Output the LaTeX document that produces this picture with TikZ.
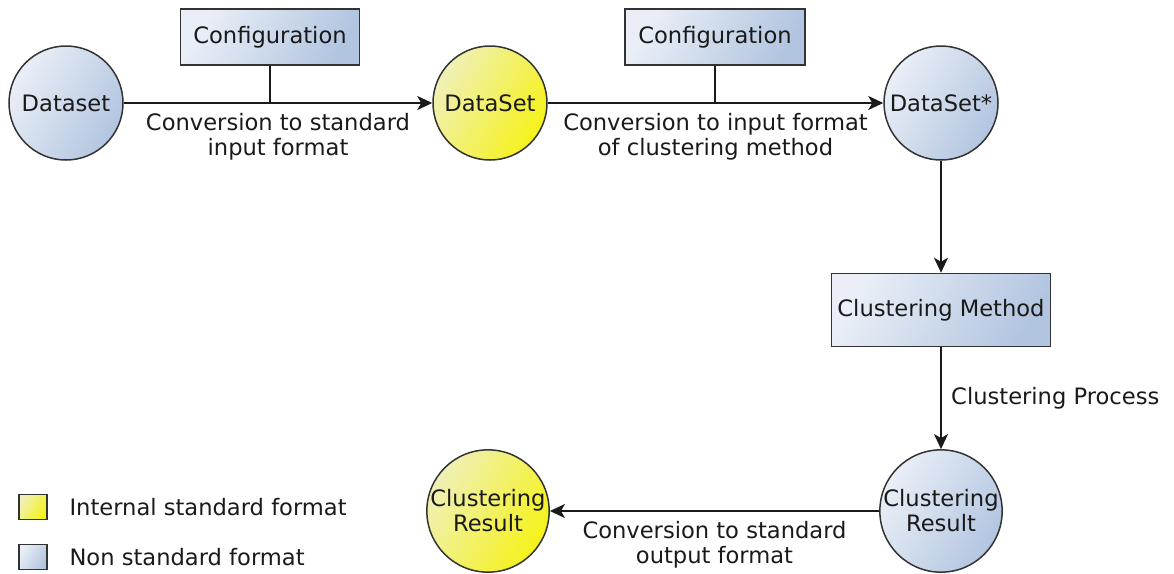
\documentclass[tikz,border=0pt]{standalone}
\usepackage{fontspec}
\setmainfont{DejaVu Sans}
\usetikzlibrary{arrows.meta}
\definecolor{blueL}{HTML}{EAEFF7}
\definecolor{blueD}{HTML}{B2C5E0}
\definecolor{yelL}{HTML}{F0F0B8}
\definecolor{yelD}{HTML}{F5F218}
\definecolor{ink}{HTML}{1A1A1A}
\definecolor{edge}{HTML}{333333}
\tikzset{
  bluefill/.style={shading=axis,left color=blueL,right color=blueD,shading angle=60},
  yelfill/.style={shading=axis,left color=yelL,right color=yelD,shading angle=60},
  statecirc/.style={circle,draw=edge,line width=1.5pt,minimum size=#1,inner sep=0pt,align=center,text=ink},
  bluecirc/.style={statecirc=114pt,bluefill},
  yelcirc/.style={statecirc=114pt,yelfill},
  cfgbox/.style={rectangle,draw=edge,line width=1.5pt,bluefill,text=ink},
  legbox/.style={rectangle,draw=edge,line width=1.2pt,minimum width=28pt,minimum height=25pt,inner sep=0pt},
  conn/.style={draw=ink,line width=1.8pt},
  arr/.style={conn,-{Stealth[length=15pt,width=14pt,inset=4pt]}},
  lbl/.style={text=ink,align=center,font=\fontsize{22.6}{25}\selectfont}
}
\begin{document}
\begin{tikzpicture}[x=1pt,y=-1pt,font=\fontsize{22.6}{25}\selectfont]
\useasboundingbox (0,0) rectangle (1174,573);
% circles
\node[bluecirc] (d0) at (66,103) {Dataset};
\node[yelcirc] (d1) at (490,103) {DataSet};
\node[bluecirc] (d2) at (941,103) {DataSet*};
\node[statecirc=120pt,bluefill] (cr) at (941,511) {Clustering\\Result};
\node[statecirc=117pt,yelfill] (fr) at (488,511) {Clustering\\Result};
% boxes
\node[cfgbox,minimum width=179pt,minimum height=56pt] (c1) at (270,37) {Configuration};
\node[cfgbox,minimum width=180pt,minimum height=56pt] (c2) at (715,37) {Configuration};
\node[cfgbox,minimum width=219pt,minimum height=73pt] (cm) at (941,310) {Clustering Method};
% connectors
\draw[arr] (d0) -- node[lbl,below=6pt] {Conversion to standard\\input format} (d1);
\draw[conn] (c1.south) -- (c1.south |- d0.east);
\draw[arr] (d1) -- node[lbl,below=6pt] {Conversion to input format\\of clustering method} (d2);
\draw[conn] (c2.south) -- (c2.south |- d1.east);
\draw[arr] (d2) -- (cm);
\draw[arr] (cm) -- node[lbl,right=6pt] {Clustering Process} (cr);
\draw[arr] (cr) -- node[lbl,below=6pt] {Conversion to standard\\output format} (fr);
% legend
\node[legbox,yelfill] (ly) at (33,507) {};
\node[legbox,bluefill] (lb) at (33,557) {};
\node[lbl,anchor=west] (ty) at (66,507) {Internal standard format};
\node[lbl,anchor=west] (tb) at (66,557) {Non standard format};
\end{tikzpicture}
\end{document}
